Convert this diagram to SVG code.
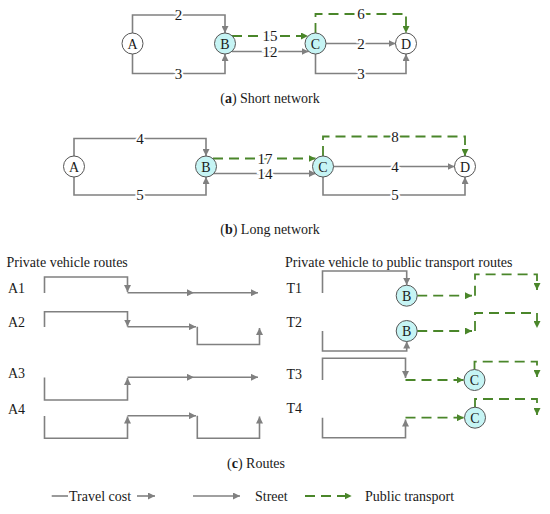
<svg xmlns="http://www.w3.org/2000/svg" width="550" height="514" viewBox="0 0 550 514">
<defs>
<marker id="ag" markerUnits="userSpaceOnUse" markerWidth="8" markerHeight="7" refX="7" refY="3.5" orient="auto"><path d="M0,0 L7,3.5 L0,7 z" fill="#808080"/></marker>
<marker id="an" markerUnits="userSpaceOnUse" markerWidth="8" markerHeight="7" refX="7" refY="3.5" orient="auto"><path d="M0,0 L7,3.5 L0,7 z" fill="#4a862a"/></marker>
</defs>
<style>
text{font-family:"Liberation Serif","Times New Roman",serif;fill:#1a1a1a}
.g{fill:none;stroke:#808080;stroke-width:1.6}
.ga{fill:none;stroke:#808080;stroke-width:1.6;marker-end:url(#ag)}
.p{fill:none;stroke:#4a862a;stroke-width:1.8;stroke-dasharray:10 6;marker-end:url(#an)}
.w{fill:#fff;stroke:#555;stroke-width:1}
.c{fill:#c6f4f4;stroke:#555;stroke-width:1}
.nl{font-size:14px;text-anchor:middle}
.el{font-size:15px;text-anchor:middle;stroke:#fff;stroke-width:4;paint-order:stroke}
.rl{font-size:14px}
.cap{font-size:14px;text-anchor:middle}
</style>

<g id="connectors">
<!-- network a -->
<path class="ga" d="M132.5,33 V15 H225 V33"/>
<path class="ga" d="M132.5,54 V73.5 H225 V54"/>
<path class="p" d="M232,36 H308"/>
<path class="ga" d="M232,51.5 H308.5"/>
<path class="p" d="M315.5,33 V14 H406 V33"/>
<path class="ga" d="M326,43.5 H395.5"/>
<path class="ga" d="M315.5,54 V73.5 H406 V54"/>
<!-- network b -->
<path class="ga" d="M74,156 V138.5 H206 V156"/>
<path class="ga" d="M74,177 V195 H206 V177"/>
<path class="p" d="M213,158.5 H315.5"/>
<path class="ga" d="M213,173.5 H316"/>
<path class="p" d="M323,156 V136.5 H465 V156"/>
<path class="ga" d="M333.5,166.5 H454.5"/>
<path class="ga" d="M323,177 V195 H465 V177"/>
<!-- private routes -->
<path class="ga" d="M44.5,293 V277 H127.5 V292"/>
<path class="ga" d="M127.5,292.7 H194"/>
<path class="ga" d="M194,292.7 H258"/>
<path class="ga" d="M44.5,327 V311.7 H127.5 V326.5"/>
<path class="ga" d="M127.5,326.7 H196"/>
<path class="ga" d="M197.3,326.7 V344.5 H259.5 V328"/>
<path class="ga" d="M44.5,377.5 V400 H127.5 V378"/>
<path class="ga" d="M127.5,377.3 H194"/>
<path class="ga" d="M194,377.3 H258"/>
<path class="ga" d="M44.5,416 V438.3 H127.5 V416.5"/>
<path class="ga" d="M127.5,415.7 H196"/>
<path class="ga" d="M197.3,415.7 V438.3 H259.5 V416.5"/>
<!-- transfer routes -->
<path class="ga" d="M322.5,293 V271 H406.7 V285"/>
<path class="p" d="M417.2,295.7 H472"/>
<path class="p" d="M475,295.7 V274.3 H537 V290"/>
<path class="ga" d="M322.5,331 V351 H406.7 V341.5"/>
<path class="p" d="M417.2,331 H472"/>
<path class="p" d="M475,331 V313 H537 V328"/>
<path class="ga" d="M322.5,380 V358.3 H405.5 V378"/>
<path class="p" d="M405.5,380 H463.5"/>
<path class="p" d="M474.5,369.5 V361.7 H537 V377"/>
<path class="ga" d="M322.5,417.7 V437.7 H405.5 V419.5"/>
<path class="p" d="M405.5,417.7 H464"/>
<path class="p" d="M475,407 V399 H537 V415"/>
<!-- legend -->
<path class="g" d="M51.7,496 H68"/>
<path class="ga" d="M137,496 H155"/>
<path class="ga" d="M193,496 H240"/>
<path class="p" d="M305,496 H351.7"/>
</g>

<g id="edge-labels">
<text class="el" x="178.5" y="20">2</text>
<text class="el" x="178.5" y="78.5">3</text>
<text class="el" x="270" y="41">15</text>
<text class="el" x="270" y="56.5">12</text>
<text class="el" x="361" y="19">6</text>
<text class="el" x="361" y="48.5">2</text>
<text class="el" x="361" y="78.5">3</text>
<text class="el" x="140" y="143.5">4</text>
<text class="el" x="140" y="200">5</text>
<text class="el" x="265" y="163.5">17</text>
<text class="el" x="265" y="178.5">14</text>
<text class="el" x="395" y="141.5">8</text>
<text class="el" x="395" y="171.5">4</text>
<text class="el" x="395" y="200">5</text>
</g>

<g id="a-A"><circle class="w" cx="132.5" cy="43.5" r="10.5"/><text class="nl" x="132.5" y="48.5">A</text></g>
<g id="a-B"><circle class="c" cx="225" cy="43.5" r="10.5"/><text class="nl" x="225" y="48.5">B</text></g>
<g id="a-C"><circle class="c" cx="315.5" cy="43.5" r="10.5"/><text class="nl" x="315.5" y="48.5">C</text></g>
<g id="a-D"><circle class="w" cx="406" cy="43.5" r="10.5"/><text class="nl" x="406" y="48.5">D</text></g>

<g id="b-A"><circle class="w" cx="74" cy="166.5" r="10.5"/><text class="nl" x="74" y="171.5">A</text></g>
<g id="b-B"><circle class="c" cx="206" cy="166.5" r="10.5"/><text class="nl" x="206" y="171.5">B</text></g>
<g id="b-C"><circle class="c" cx="323" cy="166.5" r="10.5"/><text class="nl" x="323" y="171.5">C</text></g>
<g id="b-D"><circle class="w" cx="465" cy="166.5" r="10.5"/><text class="nl" x="465" y="171.5">D</text></g>

<g id="t1-B"><circle class="c" cx="406.7" cy="295.7" r="10.5"/><text class="nl" x="406.7" y="300.7">B</text></g>
<g id="t2-B"><circle class="c" cx="406.7" cy="331" r="10.5"/><text class="nl" x="406.7" y="336">B</text></g>
<g id="t3-C"><circle class="c" cx="474.5" cy="380" r="10.5"/><text class="nl" x="474.5" y="385">C</text></g>
<g id="t4-C"><circle class="c" cx="475" cy="417.7" r="10.5"/><text class="nl" x="475" y="422.7">C</text></g>

<g id="captions">
<text class="cap" x="270" y="103">(<tspan font-weight="bold">a</tspan>) Short network</text>
<text class="cap" x="270" y="234">(<tspan font-weight="bold">b</tspan>) Long network</text>
<text class="cap" x="256" y="468">(<tspan font-weight="bold">c</tspan>) Routes</text>
</g>

<g id="route-labels">
<text class="rl" x="6.5" y="266.5">Private vehicle routes</text>
<text class="rl" x="285" y="266.5">Private vehicle to public transport routes</text>
<text class="rl" x="8" y="293">A1</text>
<text class="rl" x="8" y="327">A2</text>
<text class="rl" x="8" y="378">A3</text>
<text class="rl" x="8" y="414">A4</text>
<text class="rl" x="286.5" y="293">T1</text>
<text class="rl" x="286.5" y="327">T2</text>
<text class="rl" x="286.5" y="379">T3</text>
<text class="rl" x="286.5" y="413">T4</text>
</g>

<g id="legend">
<text class="rl" x="69" y="500.5">Travel cost</text>
<text class="rl" x="255" y="500.5">Street</text>
<text class="rl" x="365" y="500.5">Public transport</text>
</g>
</svg>
